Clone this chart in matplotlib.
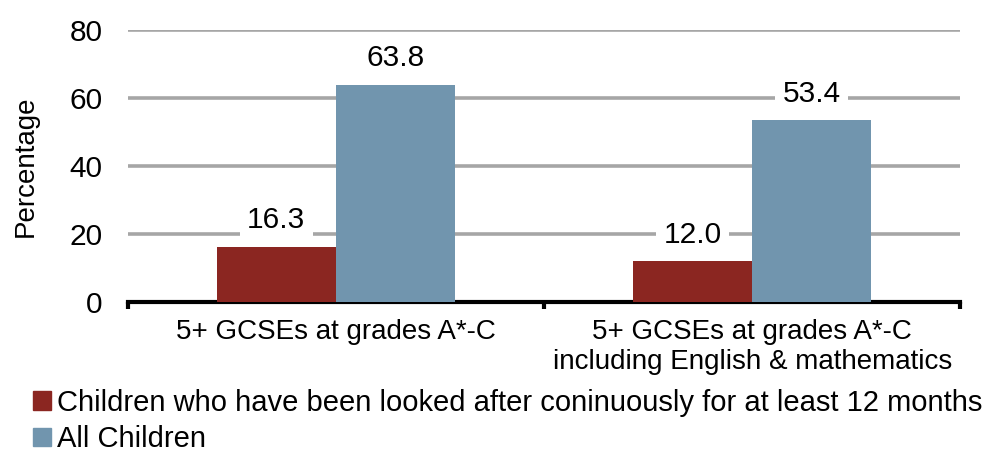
import matplotlib.pyplot as plt
import numpy as np
from matplotlib.patches import Patch

categories = ['5+ GCSEs at grades A*-C',
              '5+ GCSEs at grades A*-C\nincluding English & mathematics']
series_names = ['Children who have been looked after coninuously for at least 12 months',
                'All Children']
looked_after = [16.3, 12.0]
all_children = [63.8, 53.4]
colors = ['#8B2621', '#7195AE']

plt.rcParams['font.family'] = ['Liberation Sans', 'DejaVu Sans']

fig = plt.figure(figsize=(9.89, 4.55), dpi=100)
ax = fig.add_axes([0.129, 0.336, 0.842, 0.599])

x = np.arange(len(categories))
w = 0.286
b1 = ax.bar(x - w / 2, looked_after, w, color=colors[0], zorder=3)
b2 = ax.bar(x + w / 2, all_children, w, color=colors[1], zorder=3)

for bars in (b1, b2):
    for bar in bars:
        h = bar.get_height()
        ax.annotate('%.1f' % h, xy=(bar.get_x() + bar.get_width() / 2, h),
                    xytext=(0, 9), textcoords='offset points',
                    ha='center', va='bottom', fontsize=21.5,
                    bbox=dict(boxstyle='square,pad=0.25', fc='white', ec='none'),
                    zorder=4)

ax.set_xlim(-0.5, 1.5)
ax.set_ylim(0, 80)
ax.set_yticks([0, 20, 40, 60, 80])
ax.yaxis.grid(True, color='#A6A6A6', linewidth=2.6, zorder=0)
ax.set_axisbelow(True)
ax.tick_params(axis='y', length=0, labelsize=21.5, pad=18)

ax.set_xticks([-0.5, 0.5, 1.5])
ax.set_xticklabels([])
ax.set_xticks(x, minor=True)
ax.set_xticklabels(categories, minor=True, fontsize=20)
ax.tick_params(axis='x', which='major', direction='out', length=5, width=3)
ax.tick_params(axis='x', which='minor', length=0, pad=12)

for s in ['top', 'right', 'left']:
    ax.spines[s].set_visible(False)
ax.spines['bottom'].set_linewidth(3)

ax.set_ylabel('Percentage', fontsize=20, labelpad=22)

handles = [Patch(color=c) for c in colors]
fig.legend(handles, series_names, loc='lower left', bbox_to_anchor=(0.022, -0.022),
           frameon=False, fontsize=21, handlelength=0.6, handleheight=0.6,
           handletextpad=0.2, labelspacing=0.3, borderaxespad=0)

fig.savefig('out.png', dpi=100)
